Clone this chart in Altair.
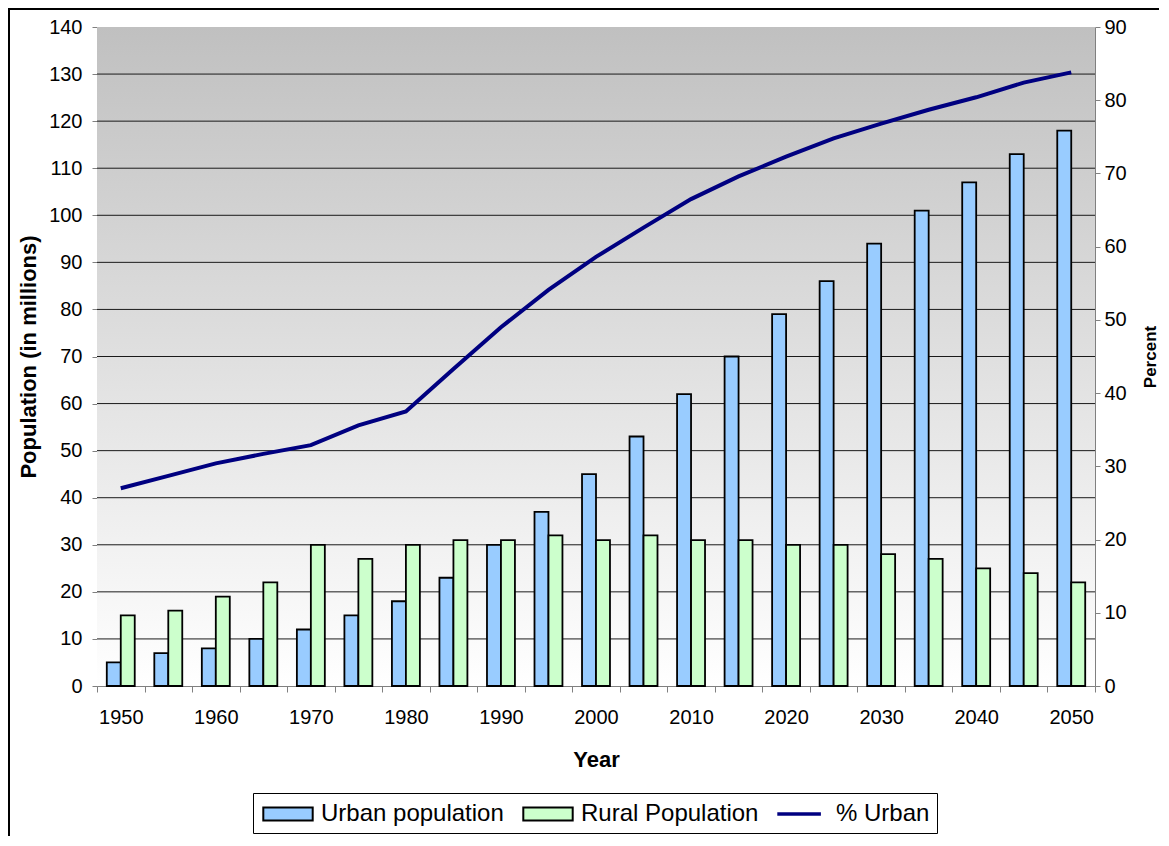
import altair as alt
import pandas as pd

years = [1950, 1955, 1960, 1965, 1970, 1975, 1980, 1985, 1990, 1995, 2000,
         2005, 2010, 2015, 2020, 2025, 2030, 2035, 2040, 2045, 2050]
urban = [5, 7, 8, 10, 12, 15, 18, 23, 30, 37, 45, 53, 62, 70, 79, 86, 94, 101, 107, 113, 118]
rural = [15, 16, 19, 22, 30, 27, 30, 31, 31, 32, 31, 32, 31, 31, 30, 30, 28, 27, 25, 24, 22]
pct_urban = [27.0, 28.7, 30.4, 31.7, 32.9, 35.6, 37.5, 43.3, 49.0, 54.1, 58.6,
             62.6, 66.5, 69.6, 72.3, 74.8, 76.8, 78.7, 80.4, 82.4, 83.8]

series_names = ["Urban population", "Rural Population", "% Urban"]
series_colors = ["#99CCFF", "#CCFFCC", "#000080"]
left_ticks = [0, 10, 20, 30, 40, 50, 60, 70, 80, 90, 100, 110, 120, 130, 140]
grid_values = [10, 20, 30, 40, 50, 60, 70, 80, 90, 100, 110, 120, 130]
right_ticks = [0, 10, 20, 30, 40, 50, 60, 70, 80, 90]

W, H = 998, 659
FONT = "Liberation Sans"

bar_df = pd.DataFrame({
    "year": years * 2,
    "series": [series_names[0]] * len(years) + [series_names[1]] * len(years),
    "value": urban + rural,
})
line_df = pd.DataFrame({"year": years, "pct": pct_urban})
grid_df = pd.DataFrame({"v": grid_values})
one_df = pd.DataFrame({"k": [0]})

x_scale = alt.Scale(paddingInner=0, paddingOuter=0)

frame = alt.Chart(one_df).mark_rect(fill=None, stroke="black", strokeWidth=2).encode(
    x=alt.value(-88), x2=alt.value(2000), y=alt.value(-18), y2=alt.value(2000)
)

bg = alt.Chart(one_df).mark_rect(
    fill=alt.LinearGradient(
        gradient="linear",
        stops=[alt.GradientStop(color="#C0C0C0", offset=0),
               alt.GradientStop(color="#FFFFFF", offset=1)],
        x1=0, x2=0, y1=0, y2=1,
    ),
    stroke=None,
).encode(x=alt.value(0), x2=alt.value("width"), y=alt.value(0), y2=alt.value("height"))

grid = alt.Chart(grid_df).mark_rule(color="#1a1a1a", strokeWidth=1).encode(
    y=alt.Y("v:Q", scale=alt.Scale(domain=[0, 140]), axis=None),
    x=alt.value(0), x2=alt.value("width"),
)

legend = alt.Legend(
    title=None, orient="none", legendX=156, legendY=766, direction="horizontal",
    strokeColor="black", fillColor="white", padding=7,
    labelFontSize=24, labelFont=FONT, labelColor="black", labelLimit=0,
    labelOffset=19, columnPadding=15, symbolSize=676, symbolOffset=14,
    symbolType={"expr": "datum.value == '% Urban' ? 'M-1.9,-0.06H1.3V0.06H-1.9Z' : 'M-1.9,-0.5H1.9V0.5H-1.9Z'"},
    symbolStrokeColor={"expr": "datum.value == '% Urban' ? '#000080' : 'black'"},
    symbolStrokeWidth=2,
    symbolOpacity=1,
)

bars = alt.Chart(bar_df).mark_bar(stroke="black", strokeWidth=1.8, opacity=1).encode(
    x=alt.X("year:O", title="Year", scale=x_scale,
            axis=alt.Axis(labelAngle=0, tickBand="extent", tickSize=6, tickColor="#808080",
                          domainColor="#808080", labelFontSize=20, labelPadding=15,
                          labelExpr="datum.value % 10 == 0 ? datum.label : ''",
                          titleFontSize=22, titleFontWeight="bold", titlePadding=22,
                          labelColor="black", titleColor="black")),
    xOffset=alt.XOffset("series:N", sort=series_names[:2],
                        scale=alt.Scale(paddingOuter=0.7, paddingInner=0)),
    y=alt.Y("value:Q", scale=alt.Scale(domain=[0, 140]),
            axis=alt.Axis(orient="left", values=left_ticks, grid=False, tickSize=5,
                          tickColor="#808080", domainColor="#808080", labelFontSize=20,
                          labelPadding=10, title="Population (in millions)", titleFontSize=22,
                          titleFontWeight="bold", titlePadding=8,
                          labelColor="black", titleColor="black")),
    fill=alt.Fill("series:N", scale=alt.Scale(domain=series_names, range=series_colors),
                  legend=legend),
)

line = alt.Chart(line_df).mark_line(strokeWidth=4, stroke="#000080").encode(
    x=alt.X("year:O", scale=x_scale),
    y=alt.Y("pct:Q", scale=alt.Scale(domain=[0, 90]),
            axis=alt.Axis(orient="right", values=right_ticks, grid=False, tickSize=5,
                          tickColor="#808080", domainColor="#808080", labelFontSize=20,
                          labelPadding=4, title="Percent", titleFontSize=17,
                          titleFontWeight="bold", titleAngle=270, titleX=55, titleY=H / 2,
                          titleAlign="center", titleBaseline="middle",
                          labelColor="black", titleColor="black")),
)

chart = alt.layer(frame, bg, grid, bars, line).resolve_scale(y="independent").properties(
    width=W, height=H,
    autosize=alt.AutoSizeParams(type="none"),
    padding={"left": 89, "top": 19, "right": 64, "bottom": 150},
).configure(font=FONT).configure_view(stroke=None)

chart.save("out.html", embed_options={"renderer": "svg", "actions": False})
